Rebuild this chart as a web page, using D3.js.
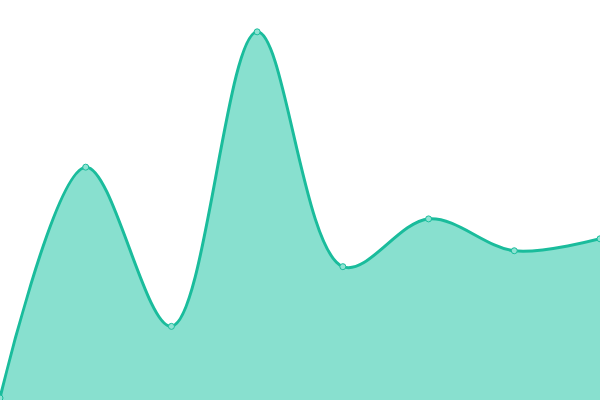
<!DOCTYPE html>
<html lang="en">
<head>
    <meta charset="UTF-8">
    <title>Area</title>
    <script src="https://d3js.org/d3.v7.min.js"></script>
    <style>
        body { margin: 0; background: #fff; }
        svg { display: block; }
    </style>
</head>
<body>
    <script>
        // one value per point, left to right
        var labels = ["A", "B", "C", "D", "E", "F", "G", "H"];
        var values = [0, 58, 18, 92, 33, 45, 37, 40];

        var width = 600, height = 400;

        var svg = d3.select("body").append("svg")
            .attr("width", width)
            .attr("height", height);

        var x = d3.scalePoint().domain(labels).range([0, width]);
        var y = d3.scaleLinear().domain([0, 100]).range([398, 0]);

        var curve = d3.curveCatmullRom.alpha(0.5);

        var area = d3.area()
            .x((d, i) => x(labels[i]))
            .y0(height)
            .y1(d => y(d))
            .curve(curve);

        var line = d3.line()
            .x((d, i) => x(labels[i]))
            .y(d => y(d))
            .curve(curve);

        svg.append("path")
            .datum(values)
            .attr("d", area)
            .attr("fill", "#88e0cf");

        svg.append("path")
            .datum(values)
            .attr("d", line)
            .attr("fill", "none")
            .attr("stroke", "#1abc9c")
            .attr("stroke-width", 3);

        svg.selectAll("circle")
            .data(values)
            .enter()
            .append("circle")
            .attr("cx", (d, i) => x(labels[i]))
            .attr("cy", d => y(d))
            .attr("r", 3)
            .attr("fill", "#8fe3d3")
            .attr("stroke", "#1abc9c")
            .attr("stroke-width", 1);
    </script>
</body>
</html>
